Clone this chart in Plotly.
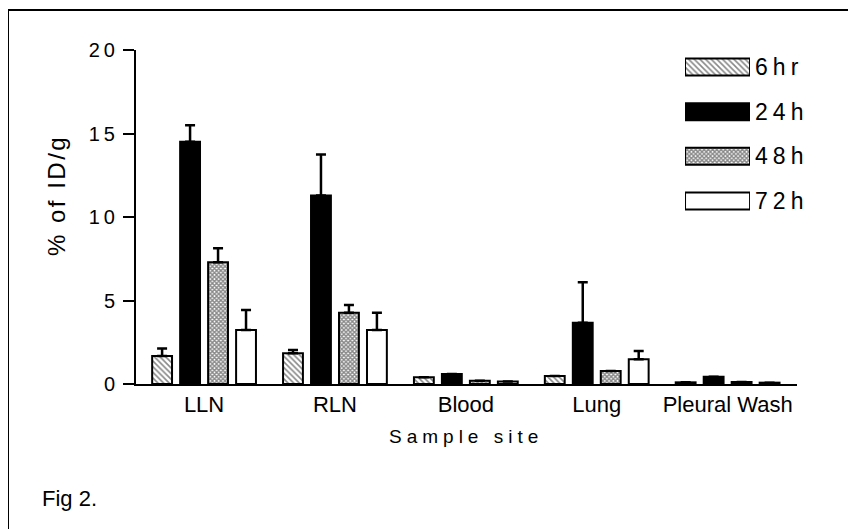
import plotly.graph_objects as go

categories = ["LLN", "RLN", "Blood", "Lung", "Pleural Wash"]
series_names = ["6hr", "24h", "48h", "72h"]

v_6hr = [1.68, 1.84, 0.40, 0.48, 0.10]
v_24h = [14.5, 11.28, 0.60, 3.67, 0.43]
v_48h = [7.29, 4.27, 0.20, 0.78, 0.12]
v_72h = [3.23, 3.23, 0.15, 1.48, 0.08]

e_6hr = [0.45, 0.20, 0.0, 0.0, 0.0]
e_24h = [1.0, 2.47, 0.0, 2.42, 0.0]
e_48h = [0.84, 0.46, 0.0, 0.0, 0.0]
e_72h = [1.2, 1.04, 0.0, 0.50, 0.0]

y_ticks = [0, 5, 10, 15, 20]
y_ticklabels = ["0", "5", "10", "15", "20"]

values = [v_6hr, v_24h, v_48h, v_72h]
errors = [e_6hr, e_24h, e_48h, e_72h]

FONT = "Liberation Sans, Arial, sans-serif"


def spaced(s, px):
    return '<span style="letter-spacing:%spx">%s</span>' % (px, s)


styles = [
    dict(color="white", pattern=dict(shape="\\", size=4, solidity=0.4, fgcolor="#111", bgcolor="white")),
    dict(color="black"),
    dict(color="white", pattern=dict(shape="x", size=3, solidity=0.7, fgcolor="#111", bgcolor="white")),
    dict(color="white"),
]

fig = go.Figure()
for name, v, e, st in zip(series_names, values, errors, styles):
    fig.add_trace(go.Bar(
        x=categories, y=v, name=name,
        marker=dict(line=dict(color="black", width=2), **st),
        error_y=dict(type="data", array=e, arrayminus=[0] * len(e), symmetric=False,
                     color="black", thickness=2.5, width=5),
        showlegend=False,
    ))

# legend drawn as a small horizontal bar chart on its own axes
for name, st in zip(series_names, styles):
    fig.add_trace(go.Bar(
        x=[1], y=[name], orientation="h", width=0.38,
        marker=dict(line=dict(color="black", width=2), **st),
        xaxis="x2", yaxis="y2", showlegend=False, hoverinfo="skip",
    ))

# figure sits at an 8px body offset inside the page, so pixel layout is shifted by -8
W, H = 848, 521
L, T, PW, PH = 128, 42, 661, 334


def px(xp):
    return (xp - 8 - L) / PW


def py(yp):
    return (T + PH - (yp - 8)) / PH


fig.update_layout(
    width=W, height=H,
    paper_bgcolor="white", plot_bgcolor="white",
    margin=dict(l=L, r=W - L - PW, t=T, b=H - T - PH),
    barmode="group", bargap=0.145, bargroupgap=0.29,
    font=dict(family=FONT, color="black", size=20),
    xaxis=dict(
        range=[-0.52, 4.53], showline=True, linecolor="black", linewidth=2,
        ticks="", showgrid=False, zeroline=False,
        tickfont=dict(size=22),
    ),
    yaxis=dict(
        range=[0, 20], tickvals=y_ticks, ticktext=[spaced(t, 4) for t in y_ticklabels],
        showline=True, linecolor="black", linewidth=2,
        ticks="outside", ticklen=11, tickwidth=2, tickcolor="black",
        showgrid=False, zeroline=False, tickfont=dict(size=20),
    ),
    xaxis2=dict(domain=[0.8306, 0.929], range=[0, 1], visible=False, anchor="y2"),
    yaxis2=dict(domain=[0.401, 1.0], type="category", range=[4.097, -0.38],
                anchor="x2", side="right", showline=False, showgrid=False,
                ticks="", tickfont=dict(size=23), zeroline=False,
                tickvals=series_names, ticktext=[spaced(s, 5) for s in series_names],
                ticklabelstandoff=4),
    shapes=[dict(type="rect", xref="paper", yref="paper",
                 x0=px(8), x1=1.5, y0=-1, y1=py(10),
                 line=dict(color="black", width=2), fillcolor="rgba(0,0,0,0)", layer="below")],
    annotations=[
        dict(text="Fig 2.", xref="paper", yref="paper", x=px(40), y=py(498),
             xanchor="left", yanchor="middle", showarrow=False, font=dict(size=22)),
        dict(text=spaced("% of ID/g", 2.5), xref="paper", yref="paper", x=px(56), y=py(196),
             xanchor="center", yanchor="middle", textangle=-90, showarrow=False,
             font=dict(size=24)),
        dict(text=spaced("Sample site", 5), xref="paper", yref="paper", x=px(466), y=py(436),
             xanchor="center", yanchor="middle", showarrow=False, font=dict(size=19)),
    ],
)

fig.write_html("out.html")
